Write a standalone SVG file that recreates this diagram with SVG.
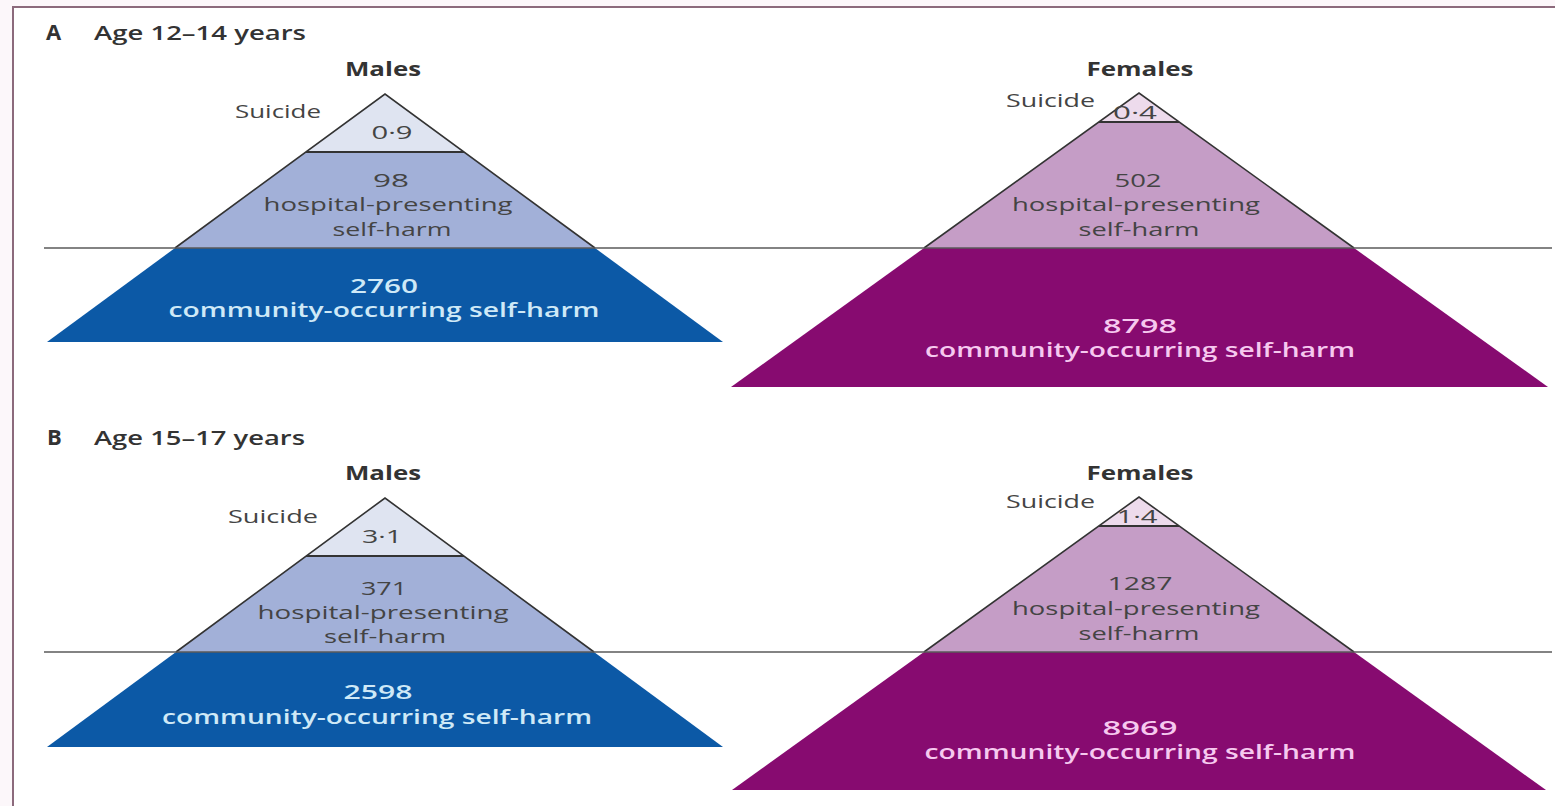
<svg xmlns="http://www.w3.org/2000/svg" width="1555" height="806" viewBox="0 0 1555 806">
<style>
text{font-family:"Open Sans","Liberation Sans",sans-serif;}
.lbl{font-size:19px;fill:#444;}
.hdr{font-size:19px;font-weight:700;fill:#333;}
.ttl{font-size:19px;font-weight:600;fill:#333;}
.big{font-size:22px;font-weight:700;fill:#333;}
.mc{font-size:19px;font-weight:600;fill:#cfe9f7;}
.fc{font-size:19px;font-weight:600;fill:#f6c9ef;}
.c{text-anchor:middle;}
.edge{fill:none;stroke:#333;stroke-width:1.6;stroke-linejoin:miter;}
.sep{stroke:#333;stroke-width:2;}
.div{stroke:#5a5a5a;stroke-width:1.6;}
.ms{fill:#dfe4f1;}.mh{fill:#a2b0d8;}.mb{fill:#0c59a6;}
.fs{fill:#eddbec;}.fh{fill:#c59dc6;}.fb{fill:#870b70;}
</style>
<rect x="0" y="0" width="1555" height="806" fill="#fcf7fa"/>
<rect x="13" y="7" width="1542" height="799" fill="#ffffff"/>
<path d="M13,806 V7 H1555" fill="none" stroke="#8c6a7c" stroke-width="2"/>

<g id="panelA-title">
<text class="big" x="46" y="40">A</text>
<text class="ttl" x="94" y="40" textLength="212" lengthAdjust="spacingAndGlyphs">Age 12–14 years</text>
</g>
<g id="panelB-title">
<text class="big" x="47" y="445">B</text>
<text class="ttl" x="94" y="445" textLength="211" lengthAdjust="spacingAndGlyphs">Age 15–17 years</text>
</g>

<g id="A-males">
<text class="hdr c" x="383" y="76" textLength="76" lengthAdjust="spacingAndGlyphs">Males</text>
<polygon class="ms" points="385,94 464,152 306,152"/>
<polygon class="mh" points="306,152 464,152 595,248 175,248"/>
<polygon class="mb" points="175,248 595,248 723,342 47,342"/>
<polyline class="edge" points="175,248 385,94 595,248"/>
<line class="sep" x1="306" y1="152" x2="464" y2="152"/>
<text class="lbl" x="235" y="118" textLength="86" lengthAdjust="spacingAndGlyphs">Suicide</text>
<text class="lbl c" x="392" y="139" textLength="41" lengthAdjust="spacingAndGlyphs">0·9</text>
<text class="lbl c" x="391" y="187" textLength="36" lengthAdjust="spacingAndGlyphs">98</text>
<text class="lbl c" x="388" y="211" textLength="249" lengthAdjust="spacingAndGlyphs">hospital-presenting</text>
<text class="lbl c" x="392" y="236" textLength="119" lengthAdjust="spacingAndGlyphs">self-harm</text>
<text class="mc c" x="384" y="293" textLength="68" lengthAdjust="spacingAndGlyphs">2760</text>
<text class="mc c" x="384" y="317" textLength="431" lengthAdjust="spacingAndGlyphs">community-occurring self-harm</text>
</g>

<g id="A-females">
<text class="hdr c" x="1140" y="76" textLength="107" lengthAdjust="spacingAndGlyphs">Females</text>
<polygon class="fs" points="1139,93 1179,122 1099,122"/>
<polygon class="fh" points="1099,122 1179,122 1354,248 924,248"/>
<polygon class="fb" points="924,248 1354,248 1548,387 731,387"/>
<polyline class="edge" points="924,248 1139,93 1354,248"/>
<line class="sep" x1="1099" y1="122" x2="1179" y2="122"/>
<text class="lbl" x="1006" y="107" textLength="89" lengthAdjust="spacingAndGlyphs">Suicide</text>
<text class="lbl c" x="1135" y="119" textLength="44" lengthAdjust="spacingAndGlyphs">0·4</text>
<text class="lbl c" x="1138" y="187" textLength="47" lengthAdjust="spacingAndGlyphs">502</text>
<text class="lbl c" x="1136" y="211" textLength="248" lengthAdjust="spacingAndGlyphs">hospital-presenting</text>
<text class="lbl c" x="1139" y="236" textLength="121" lengthAdjust="spacingAndGlyphs">self-harm</text>
<text class="fc c" x="1140" y="333" textLength="74" lengthAdjust="spacingAndGlyphs">8798</text>
<text class="fc c" x="1140" y="357" textLength="430" lengthAdjust="spacingAndGlyphs">community-occurring self-harm</text>
</g>

<g id="B-males">
<text class="hdr c" x="383" y="480" textLength="76" lengthAdjust="spacingAndGlyphs">Males</text>
<polygon class="ms" points="385,498 464,556 306,556"/>
<polygon class="mh" points="306,556 464,556 594,652 176,652"/>
<polygon class="mb" points="176,652 594,652 723,747 47,747"/>
<polyline class="edge" points="176,652 385,498 594,652"/>
<line class="sep" x1="306" y1="556" x2="464" y2="556"/>
<text class="lbl" x="228" y="523" textLength="90" lengthAdjust="spacingAndGlyphs">Suicide</text>
<text class="lbl c" x="382" y="543" textLength="40" lengthAdjust="spacingAndGlyphs">3·1</text>
<text class="lbl c" x="384" y="595" textLength="46" lengthAdjust="spacingAndGlyphs">371</text>
<text class="lbl c" x="383" y="619" textLength="251" lengthAdjust="spacingAndGlyphs">hospital-presenting</text>
<text class="lbl c" x="385" y="643" textLength="122" lengthAdjust="spacingAndGlyphs">self-harm</text>
<text class="mc c" x="378" y="699" textLength="69" lengthAdjust="spacingAndGlyphs">2598</text>
<text class="mc c" x="377" y="724" textLength="430" lengthAdjust="spacingAndGlyphs">community-occurring self-harm</text>
</g>

<g id="B-females">
<text class="hdr c" x="1140" y="480" textLength="107" lengthAdjust="spacingAndGlyphs">Females</text>
<polygon class="fs" points="1139,497 1179,526 1099,526"/>
<polygon class="fh" points="1099,526 1179,526 1354,652 924,652"/>
<polygon class="fb" points="924,652 1354,652 1546,790 732,790"/>
<polyline class="edge" points="924,652 1139,497 1354,652"/>
<line class="sep" x1="1099" y1="526" x2="1179" y2="526"/>
<text class="lbl" x="1006" y="508" textLength="89" lengthAdjust="spacingAndGlyphs">Suicide</text>
<text class="lbl c" x="1137" y="523" textLength="41" lengthAdjust="spacingAndGlyphs">1·4</text>
<text class="lbl c" x="1140" y="590" textLength="65" lengthAdjust="spacingAndGlyphs">1287</text>
<text class="lbl c" x="1136" y="615" textLength="248" lengthAdjust="spacingAndGlyphs">hospital-presenting</text>
<text class="lbl c" x="1139" y="640" textLength="121" lengthAdjust="spacingAndGlyphs">self-harm</text>
<text class="fc c" x="1140" y="735" textLength="75" lengthAdjust="spacingAndGlyphs">8969</text>
<text class="fc c" x="1140" y="759" textLength="431" lengthAdjust="spacingAndGlyphs">community-occurring self-harm</text>
</g>

<g id="connectors">
<line class="div" x1="44" y1="248" x2="1552" y2="248"/>
<line class="div" x1="44" y1="652" x2="1552" y2="652"/>
</g>
</svg>
